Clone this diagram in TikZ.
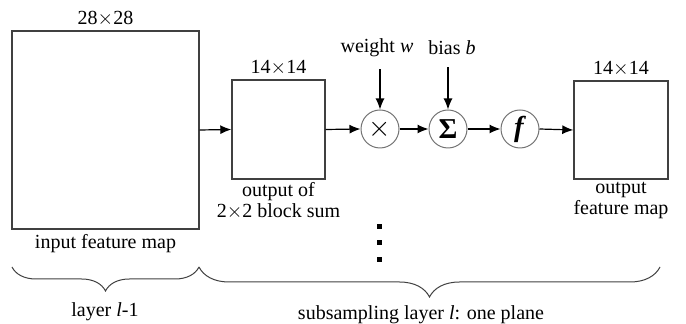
\documentclass[tikz,border=0pt]{standalone}
\usepackage{fontspec}
\setmainfont{Liberation Serif}
\usetikzlibrary{arrows.meta,positioning,decorations.pathreplacing}

\begin{document}
\begin{tikzpicture}[x=0.5pt, y=-0.5pt, node distance=1pt,
  fmap/.style={draw=black!75, line width=0.7pt, inner sep=0pt},
  op/.style={circle, draw=black!55, line width=0.5pt, minimum size=19pt, inner sep=0pt},
  lbl/.style={font=\normalsize, align=center, inner sep=1pt},
  arr/.style={-{Latex[length=5.5pt,width=4.5pt]}, line width=0.6pt},
  brc/.style={decorate, decoration={brace, mirror, amplitude=#1}, line width=0.5pt, draw=black!75}]
\useasboundingbox (0,0) rectangle (686,324);
% feature maps
\node[fmap, minimum width=93.5pt, minimum height=99pt] (in) at (105.5,130) {};
\node[fmap, minimum width=46.5pt, minimum height=49.5pt] (blk) at (278.5,129.5) {};
\node[fmap, minimum width=47pt, minimum height=49pt] (out) at (621,130) {};
\node[lbl, above=of in] {28$\times$28};
\node[lbl, below=1pt of in] {input feature map};
\node[lbl, above=of blk] {14$\times$14};
\node[lbl, below=0pt of blk, font=\normalsize\linespread{0.9}\selectfont] {output of\\2$\times$2 block sum};
\node[lbl, above=of out] {14$\times$14};
\node[lbl, below=0pt of out, font=\normalsize\linespread{0.9}\selectfont] {output\\feature map};
% operations
\node[op] (mul) at (380,129) {\Large$\times$};
\node[op] (sum) at (448,129) {\Large\textbf{Σ}};
\node[op] (act) at (520,129) {\Large\textbf{\textit{f}}};
\node[lbl] (wt) at (377,48) {weight \textit{w}};
\node[lbl] (bs) at (452,48) {bias \textit{b}};
\draw[arr] (mul.north |- wt.south) ++(0,10) -- (mul.north);
\draw[arr] (sum.north |- bs.south) ++(0,10) -- (sum.north);
\draw[arr] (in.east) -- (blk.west);
\draw[arr] (blk.east) -- (mul.west);
\draw[arr] (mul.east) -- (sum.west);
\draw[arr] (sum.east) -- (act.west);
\draw[arr] (act.east) -- (out.west);
% more planes
\foreach \y in {227,243,260}
  \fill (376.5,\y-2.5) rectangle (381.5,\y+2.5);
% layers
\coordinate (b0) at (12,267);
\coordinate (b1) at (199,267);
\coordinate (b2) at (660,267);
\draw[brc=12pt] (b0) -- (b1);
\draw[brc=15pt] (b1) -- (b2);
\node[lbl] (lprev) at (105,312) {layer \textit{l}-1};
\node[lbl] (lcur) at (421,315) {subsampling layer \textit{l}: one plane};
\end{tikzpicture}
\end{document}
